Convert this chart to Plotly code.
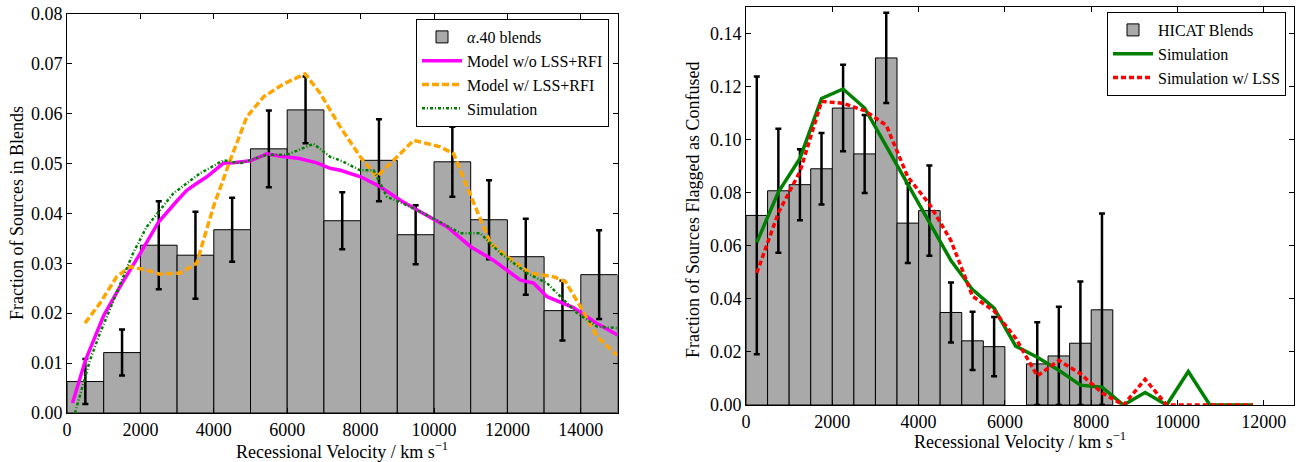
import plotly.graph_objects as go

# ---------------- Left panel: alpha.40 blends ----------------
a40_bin_centers = [500, 1500, 2500, 3500, 4500, 5500, 6500, 7500, 8500, 9500,
                   10500, 11500, 12500, 13500, 14500]
a40_fraction = [0.0063, 0.0121, 0.0336, 0.0316, 0.0367, 0.0529, 0.0607, 0.0385,
                0.0506, 0.0357, 0.0503, 0.0387, 0.0313, 0.0205, 0.0277]
a40_error = [0.0045, 0.0046, 0.0088, 0.0087, 0.0064, 0.0077, 0.0067, 0.0057,
             0.0082, 0.0059, 0.0070, 0.0079, 0.0076, 0.0060, 0.0089]

model_nolss_v = [150, 500, 1000, 1500, 2000, 2500, 3000, 3264, 3500, 3810, 4260, 4530,
                 5000, 5445, 5810, 6300, 6810, 7170, 7445, 8000, 8536, 9081, 9627,
                 10000, 10354, 11000, 11617, 12354, 12717, 13081, 13800, 14445, 15000]
model_nolss_f = [0.0020, 0.0105, 0.0195, 0.0260, 0.0320, 0.0383, 0.0425, 0.0446, 0.0458,
                 0.0473, 0.0500, 0.0501, 0.0505, 0.0519, 0.0514, 0.0510, 0.0501, 0.0490,
                 0.0486, 0.0473, 0.0453, 0.0426, 0.0403, 0.0388, 0.0373, 0.0333, 0.0306,
                 0.0266, 0.0260, 0.0233, 0.0211, 0.0179, 0.0156]

model_lss_v = [491, 900, 1355, 1718, 2173, 2536, 3081, 3536, 3718, 3990, 4445, 4900,
               5354, 5900, 6490, 6900, 7445, 7990, 8445, 8808, 9445, 10172, 10536,
               10900, 11263, 11536, 11990, 12626, 13254, 13581, 13990, 14445, 15000]
model_lss_f = [0.0180, 0.0220, 0.0273, 0.0293, 0.0286, 0.0278, 0.0280, 0.0300, 0.0346,
               0.0413, 0.0506, 0.0593, 0.0633, 0.0659, 0.0679, 0.0640, 0.0573, 0.0513,
               0.0473, 0.0499, 0.0546, 0.0533, 0.0519, 0.0453, 0.0386, 0.0340, 0.0313,
               0.0280, 0.0273, 0.0263, 0.0213, 0.0153, 0.0115]

sim_a40_v = [218, 627, 900, 1355, 1800, 2173, 2900, 3627, 4263, 4718, 5445, 5990, 6718,
             7172, 7445, 7990, 8354, 8718, 9263, 9900, 10718, 11263, 11808, 12535,
             13081, 13445, 13900, 14445, 15000]
sim_a40_f = [0.0000, 0.0106, 0.0160, 0.0240, 0.0320, 0.0373, 0.0440, 0.0480, 0.0506,
             0.0500, 0.0517, 0.0517, 0.0539, 0.0513, 0.0506, 0.0486, 0.0486, 0.0433,
             0.0416, 0.0393, 0.0360, 0.0360, 0.0320, 0.0280, 0.0260, 0.0233, 0.0200,
             0.0173, 0.0170]

# ---------------- Right panel: HICAT blends ----------------
hicat_bin_centers = [250, 750, 1250, 1750, 2250, 2750, 3250, 3750, 4250, 4750, 5250,
                     5750, 6250, 6750, 7250, 7750, 8250]
hicat_fraction = [0.0715, 0.0808, 0.0831, 0.0891, 0.1120, 0.0947, 0.1309, 0.0686,
                  0.0733, 0.0349, 0.0242, 0.0220, None, 0.0155, 0.0185, 0.0233, 0.0359]
hicat_error = [0.0524, 0.0234, 0.0134, 0.0135, 0.0163, 0.0147, 0.0170, 0.0150, 0.0170,
               0.0113, 0.0110, 0.0112, None, 0.0157, 0.0186, 0.0233, 0.0363]

sim_v = [250, 750, 1250, 1750, 2250, 2750, 3250, 3750, 4250, 4750, 5250, 5750, 6250,
         6750, 7250, 7750, 8250, 8750, 9250, 9750, 10250, 10750, 11250, 11750]
sim_f = [0.0613, 0.0803, 0.0930, 0.1156, 0.1192, 0.1120, 0.0976, 0.0832, 0.0690,
         0.0545, 0.0435, 0.0365, 0.0222, 0.0180, 0.0131, 0.0075, 0.0067, 0.0000,
         0.0047, 0.0000, 0.0126, 0.0000, 0.0000, 0.0000]
sim_lss_f = [0.0498, 0.0725, 0.0880, 0.1145, 0.1138, 0.1110, 0.1055, 0.0860, 0.0758,
             0.0620, 0.0410, 0.0355, 0.0252, 0.0110, 0.0168, 0.0118, 0.0046, 0.0000,
             0.0097, 0.0000, 0.0000, 0.0000, 0.0000, 0.0000]

SERIF = "Liberation Serif, DejaVu Serif, serif"

fig = go.Figure()

# Left panel traces
fig.add_trace(go.Bar(
    x=a40_bin_centers, y=a40_fraction, width=1000,
    name="<i>α</i>.40 blends",
    marker=dict(color="#A9A9A9", line=dict(color="black", width=1)),
    error_y=dict(type="data", array=a40_error, color="black", thickness=2.5, width=3),
    xaxis="x", yaxis="y", legend="legend",
))
fig.add_trace(go.Scatter(
    x=model_nolss_v, y=model_nolss_f, mode="lines", name="Model w/o LSS+RFI",
    line=dict(color="#FF00FF", width=3.5), xaxis="x", yaxis="y", legend="legend",
))
fig.add_trace(go.Scatter(
    x=model_lss_v, y=model_lss_f, mode="lines", name="Model w/ LSS+RFI",
    line=dict(color="#FFA500", width=3.5, dash="7px,3px"), xaxis="x", yaxis="y",
    legend="legend",
))
fig.add_trace(go.Scatter(
    x=sim_a40_v, y=sim_a40_f, mode="lines", name="Simulation",
    line=dict(color="#008000", width=2.5, dash="3px,2px,1px,2px"), xaxis="x", yaxis="y",
    legend="legend",
))

# Right panel traces
hicat_err_minus = [None if (e is None) else min(e, v) for e, v in zip(hicat_error, hicat_fraction)]
fig.add_trace(go.Bar(
    x=hicat_bin_centers, y=hicat_fraction, width=500,
    name="HICAT Blends",
    marker=dict(color="#A9A9A9", line=dict(color="black", width=1)),
    error_y=dict(type="data", array=hicat_error, arrayminus=hicat_err_minus,
                 symmetric=False, color="black", thickness=2.5, width=3),
    xaxis="x2", yaxis="y2", legend="legend2",
))
fig.add_trace(go.Scatter(
    x=sim_v, y=sim_f, mode="lines", name="Simulation",
    line=dict(color="#008000", width=3.5), xaxis="x2", yaxis="y2", legend="legend2",
))
fig.add_trace(go.Scatter(
    x=sim_v, y=sim_lss_f, mode="lines", name="Simulation w/ LSS",
    line=dict(color="#FF0000", width=3.5, dash="5px,3px"), xaxis="x2", yaxis="y2",
    legend="legend2",
))

axis_common = dict(
    showline=True, linecolor="black", linewidth=1, mirror="allticks",
    ticks="inside", ticklen=5, tickwidth=1, tickcolor="black",
    showgrid=False, zeroline=False, automargin=False,
    tickfont=dict(family=SERIF, size=18, color="black"),
)

W, H = 1299, 462
fig.update_layout(
    width=W, height=H,
    margin=dict(l=0, r=0, t=0, b=0, autoexpand=False),
    paper_bgcolor="white", plot_bgcolor="white",
    font=dict(family=SERIF, color="black"),
    showlegend=True,
    xaxis=dict(domain=[67 / W, 617.5 / W], range=[0, 15000], dtick=2000, tick0=0,
               tickformat="d", anchor="y", **axis_common),
    yaxis=dict(domain=[1 - 413 / H, 1 - 13.5 / H], range=[0, 0.08], dtick=0.01,
               tickformat=".2f", anchor="x", **axis_common),
    xaxis2=dict(domain=[746 / W, 1294 / W], range=[0, 12700], dtick=2000, tick0=0,
                tickformat="d", anchor="y2", **axis_common),
    yaxis2=dict(domain=[1 - 405 / H, 1 - 7.3 / H], range=[0, 0.15], dtick=0.02,
                tickformat=".2f", anchor="x2", **axis_common),
    legend=dict(x=609 / W, y=1 - 19 / H, xanchor="right", yanchor="top",
                bgcolor="white", bordercolor="black", borderwidth=1,
                font=dict(family=SERIF, size=16, color="black"), itemwidth=40),
    legend2=dict(x=1286 / W, y=1 - 12 / H, xanchor="right", yanchor="top",
                 bgcolor="white", bordercolor="black", borderwidth=1,
                 font=dict(family=SERIF, size=16, color="black"), itemwidth=40),
    annotations=[
        dict(text="Recessional Velocity / km s<sup>−1</sup>", x=342 / W, y=1 - 450 / H,
             xref="paper", yref="paper", xanchor="center", yanchor="middle",
             showarrow=False, font=dict(family=SERIF, size=18, color="black")),
        dict(text="Fraction of Sources in Blends", x=17 / W, y=1 - 213 / H,
             xref="paper", yref="paper", xanchor="center", yanchor="middle",
             showarrow=False, textangle=-90,
             font=dict(family=SERIF, size=18, color="black")),
        dict(text="Recessional Velocity / km s<sup>−1</sup>", x=1020 / W, y=1 - 440 / H,
             xref="paper", yref="paper", xanchor="center", yanchor="middle",
             showarrow=False, font=dict(family=SERIF, size=18, color="black")),
        dict(text="Fraction of Sources Flagged as Confused", x=693 / W, y=1 - 210 / H,
             xref="paper", yref="paper", xanchor="center", yanchor="middle",
             showarrow=False, textangle=-90,
             font=dict(family=SERIF, size=18, color="black")),
    ],
)

# remove the browser's default 8px page margin so the figure sits at the page origin
fig.write_html("out.html",
               config={"displayModeBar": False},
               post_script="document.body.style.margin='0';document.body.style.overflow='hidden';")
